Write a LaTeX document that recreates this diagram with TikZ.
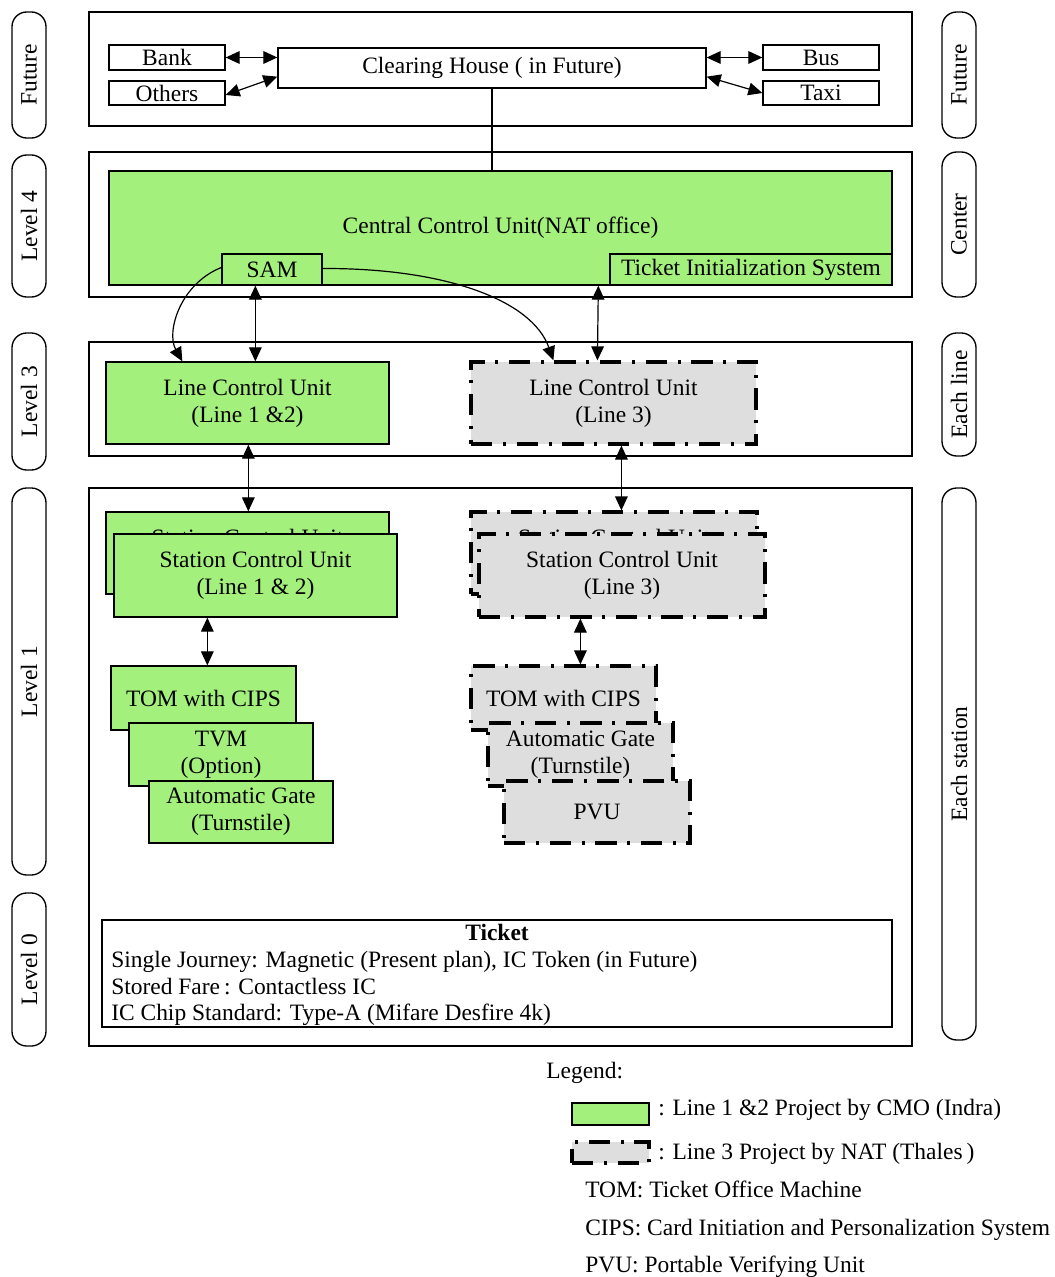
\documentclass[tikz,border=0pt]{standalone}
\usepackage{fontspec}
\setmainfont{Liberation Serif}
\usetikzlibrary{arrows.meta,calc}
\definecolor{lgreen}{RGB}{164,240,124}
\definecolor{lgray}{RGB}{222,222,222}
\begin{document}
\begin{tikzpicture}[x=0.75pt,y=-0.75pt,
  base/.style={font=\fontsize{17.6}{20.25}\selectfont},
  sz/.style 2 args={minimum width=#1*0.75pt, minimum height=#2*0.75pt},
  band/.style={draw, line width=1.1pt, inner sep=0pt},
  pill/.style={draw, line width=1pt, rounded corners=11pt, inner sep=0pt, base},
  plain/.style={draw, line width=1pt, fill=white, inner sep=0pt, align=center, base},
  greenbox/.style={draw, line width=1pt, fill=lgreen, inner sep=0pt, align=center, base},
  graybox/.style={draw, line width=2.4pt, fill=lgray, dash pattern=on 16pt off 8pt on 2.2pt off 8pt, inner sep=0pt, align=center, base},
  link/.style={line width=0.9pt, {Triangle[length=10.5pt,width=9.5pt]}-{Triangle[length=10.5pt,width=9.5pt]}},
  onearrow/.style={line width=0.9pt, -{Triangle[length=10.5pt,width=9.5pt]}},
  txt/.style={base, inner sep=0pt, anchor=base west},
]
\useasboundingbox (0,0) rectangle (1054,1277);

% horizontal bands
\node[band, sz={823}{114}] (bandF) at (500.5,69) {};
\node[band, sz={823}{145}] (band4) at (500.5,224.5) {};
\node[band, sz={823}{114}] (band3) at (500.5,399) {};
\node[band, sz={823}{558}] (band1) at (500.5,767) {};

% level labels, left side
\node[pill, rotate=90, sz={126}{34}] (lf) at (29,75) {Future};
\node[pill, rotate=90, sz={142}{34}] (l4) at (29,226) {Level 4};
\node[pill, rotate=90, sz={137}{34}] (l3) at (29,401.5) {Level 3};
\node[pill, rotate=90, sz={387}{34}] (l1) at (29,681.5) {Level 1};
\node[pill, rotate=90, sz={153}{34}] (l0) at (29,969.5) {Level 0};

% scope labels, right side
\node[pill, rotate=90, sz={126}{34}] (rf) at (959,75) {Future};
\node[pill, rotate=90, sz={145}{34}] (rc) at (959,224.5) {Center};
\node[pill, rotate=90, sz={123}{34}] (rl) at (959,394.5) {Each line};
\node[pill, rotate=90, sz={552}{34}] (rs) at (959,764) {Each station};

% future clearing
\node[plain, sz={116}{25}] (bank) at (167,57.5) {Bank};
\node[plain, sz={116}{24}] (others) at (167,93) {Others};
\node[plain, sz={428}{40}] (ch) at (492,68) {Clearing House ( in Future)};
\node[plain, sz={116}{25}] (bus) at (821,57.5) {Bus};
\node[plain, sz={116}{24}] (taxi) at (821,93) {Taxi};

\draw[link] (bank.east) -- (bank.east -| ch.west);
\draw[link] ($(others.east)+(0,2)$) -- ($(ch.south west)+(0,-12)$);
\draw[link] (ch.east |- bus.west) -- (bus.west);
\draw[link] ($(ch.south east)+(0,-12)$) -- (taxi.west);

% central level
\node[greenbox, sz={783}{114}] (ccu) at (500.5,228) {Central Control Unit(NAT office)};
\node[greenbox, sz={100}{31}] (sam) at (272,269.5) {SAM};
\node[greenbox, sz={282}{31}] (tis) at (751,269.5) {Ticket Initialization System};
\draw[line width=0.9pt] (ch.south) -- (ch.south |- ccu.north);

% line level
\node[greenbox, sz={283}{82}] (lcu12) at (247.5,403) {Line Control Unit\\(Line 1 \&2)};
\node[graybox, sz={285}{82}] (lcu3) at (613.5,403) {Line Control Unit\\(Line 3)};

\draw[link] ($(sam.south west)+(34,0)$) -- ($(lcu12.north west)+(150,0)$);
\draw[link] ($(ccu.south west)+(490,0)$) -- ($(lcu3.north west)+(128,0)$);
\draw[onearrow] ($(sam.west)+(0,-2)$) .. controls (180,284) and (166,332) .. ($(lcu12.north west)+(77,0)$);
\draw[onearrow] ($(sam.east)+(0,-1)$) .. controls (445,268) and (532,300) .. ($(lcu3.north west)+(84,0)$);

% station level
\node[greenbox, sz={283}{82}] (scu12b) at (247.5,553) {Station Control Unit\\(Line 1 \& 2)};
\node[greenbox, sz={283}{83}] (scu12) at (255.5,575.5) {Station Control Unit\\(Line 1 \& 2)};
\node[graybox, sz={286}{82}] (scu3b) at (614,553) {Station Control Unit\\(Line 3)};
\node[graybox, sz={286}{83}] (scu3) at (622,575.5) {Station Control Unit\\(Line 3)};

\draw[link] ($(lcu12.south west)+(143,0)$) -- ($(scu12b.north west)+(143,0)$);
\draw[link] ($(lcu3.south west)+(152,0)$) -- ($(scu3b.north west)+(152,0)$);

\node[greenbox, sz={185}{64}] (tom12) at (203.5,698) {TOM with CIPS};
\node[greenbox, sz={184}{63}] (tvm) at (221,754.5) {TVM\\(Option)};
\node[greenbox, sz={184}{62}] (ag12) at (241,812) {Automatic Gate\\(Turnstile)};

\node[graybox, sz={185}{64}] (tom3) at (563.5,698) {TOM with CIPS};
\node[graybox, sz={185}{63}] (ag3) at (580.5,754.5) {Automatic Gate\\(Turnstile)};
\node[graybox, sz={186}{62}] (pvu) at (597,812) {PVU};

\draw[link] ($(scu12.south west)+(94,0)$) -- ($(tom12.north west)+(97,0)$);
\draw[link] ($(scu3.south west)+(103,0)$) -- ($(tom3.north west)+(111,0)$);

% ticket media
\node[plain, sz={790}{107}] (ticket) at (497,973.5) {};
\node[inner sep=0pt, anchor=base, font=\fontsize{17.6}{20.25}\selectfont\bfseries] (tk) at (497,940) {Ticket};
\node[txt] (tk1) at (111,967) {Single Journey: Magnetic (Present plan), IC Token (in Future)};
\node[txt] (tk2) at (111,994) {Stored Fare\,: Contactless IC};
\node[txt] (tk3) at (111,1020) {IC Chip Standard: Type-A (Mifare Desfire 4k)};

% legend
\node[txt] (lg) at (546,1078) {Legend:};
\node[greenbox, sz={77}{22}] (swg) at (610.5,1114) {};
\node[txt] (lgg) at (658,1115) {: Line 1 \&2 Project by CMO (Indra)};
\node[graybox, sz={77}{21}] (swd) at (610.5,1152.5) {};
\node[txt] (lgd) at (658,1159) {: Line 3 Project by NAT (Thales\,)};
\node[txt] (ab1) at (585,1197) {TOM: Ticket Office Machine};
\node[txt] (ab2) at (585,1235) {CIPS: Card Initiation and Personalization System};
\node[txt] (ab3) at (585,1272) {PVU: Portable Verifying Unit};
\end{tikzpicture}
\end{document}
